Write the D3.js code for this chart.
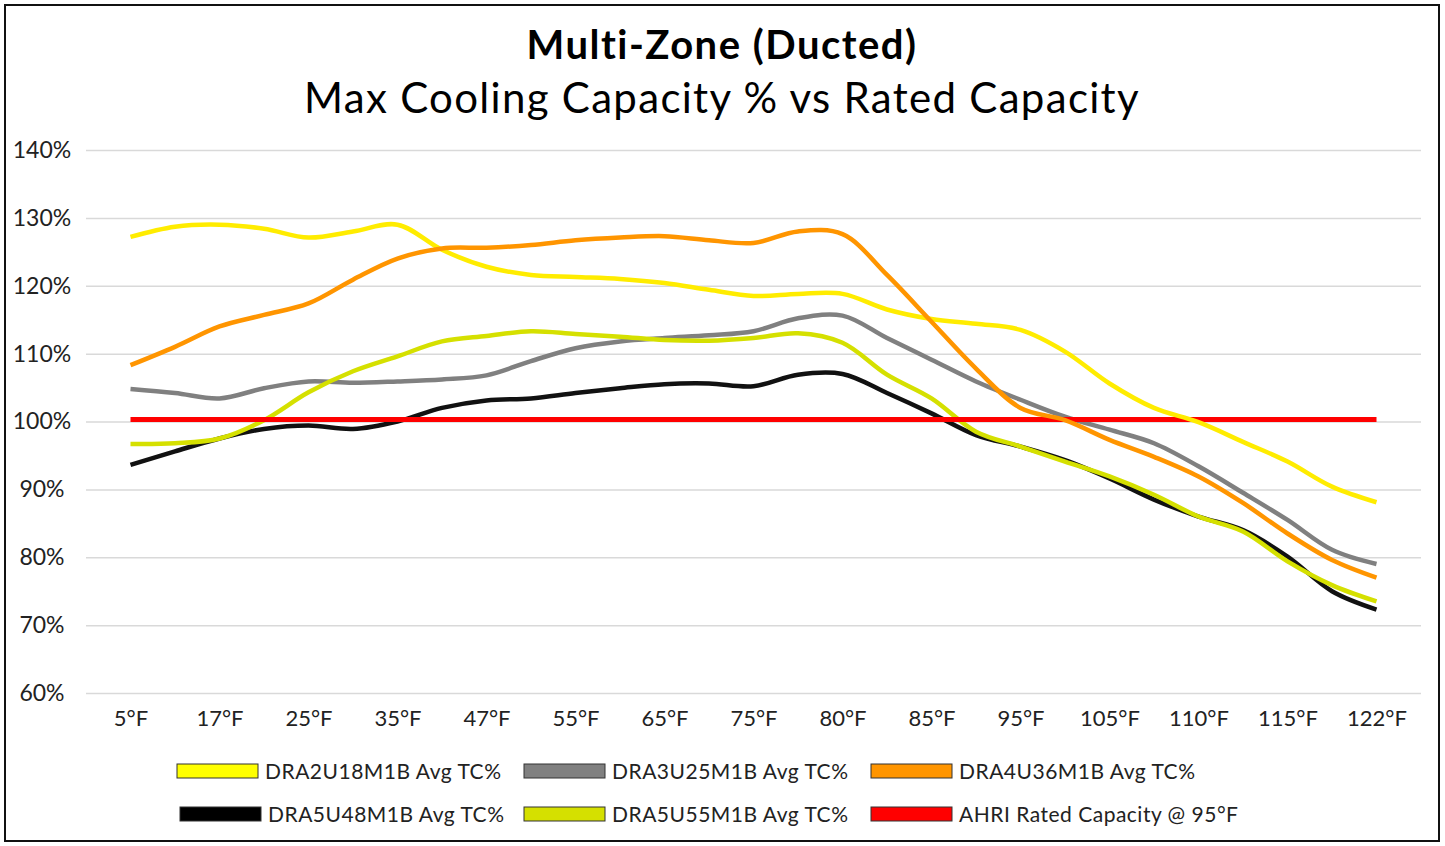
<!DOCTYPE html>
<html>
<head>
<meta charset="utf-8">
<script src="https://cdn.jsdelivr.net/npm/d3@7"></script>
<style>
  body { margin: 0; background: #fff; }
  svg { display: block; font-family: Lato, "Open Sans", sans-serif; }
</style>
</head>
<body>
<div id="chart"></div>
<script>
// x slots: every labelled temperature plus one unlabelled step between each pair
var tempLabels = ["5°F","17°F","25°F","35°F","47°F","55°F","65°F","75°F","80°F","85°F","95°F","105°F","110°F","115°F","122°F"];
var yTicks = [60, 70, 80, 90, 100, 110, 120, 130, 140];

var dra2u18 = [127.2,128.7,129.0,128.4,127.1,128.0,129.0,125.3,122.8,121.6,121.3,121.0,120.4,119.4,118.5,118.8,118.8,116.5,115.1,114.4,113.5,110.3,105.6,102.0,99.9,97.0,94.1,90.4,88.1];
var dra3u25 = [104.8,104.2,103.4,104.9,105.9,105.7,105.9,106.2,106.8,108.9,110.8,111.8,112.3,112.7,113.3,115.2,115.6,112.3,109.1,105.9,103.2,100.7,98.8,96.8,93.4,89.5,85.5,81.1,79.0];
var dra4u36 = [108.3,111.0,114.0,115.7,117.4,120.9,124.0,125.5,125.6,126.0,126.7,127.1,127.3,126.7,126.3,128.0,127.6,121.6,114.7,107.8,102.0,100.2,97.3,94.8,91.9,88.0,83.5,79.6,77.0];
var dra5u48 = [93.6,95.6,97.5,98.9,99.4,98.9,100.0,102.0,103.1,103.4,104.2,104.9,105.5,105.6,105.2,106.9,107.0,104.2,101.2,98.0,96.3,94.3,91.6,88.5,86.0,84.0,80.1,75.0,72.3];
var dra5u55 = [96.7,96.8,97.5,100.2,104.3,107.4,109.6,111.8,112.6,113.3,112.9,112.5,112.0,111.9,112.3,113.0,111.6,106.9,103.4,98.5,96.3,94.1,91.9,89.2,86.0,83.8,79.4,75.9,73.5];
var ahriRated = [100.3,100.3,100.3,100.3,100.3,100.3,100.3,100.3,100.3,100.3,100.3,100.3,100.3,100.3,100.3,100.3,100.3,100.3,100.3,100.3,100.3,100.3,100.3,100.3,100.3,100.3,100.3,100.3,100.3];

var seriesNames = ["DRA2U18M1B Avg TC%","DRA3U25M1B Avg TC%","DRA4U36M1B Avg TC%","DRA5U48M1B Avg TC%","DRA5U55M1B Avg TC%","AHRI Rated Capacity @ 95°F"];
var seriesColors = ["#ffec00","#808080","#ff9500","#111111","#d5e000","#ff0000"];
var legendSwatch = ["#ffff00","#808080","#ff9500","#000000","#d5e000","#ff0000"];

var series = [
  {name: seriesNames[3], values: dra5u48, color: seriesColors[3]},
  {name: seriesNames[1], values: dra3u25, color: seriesColors[1]},
  {name: seriesNames[4], values: dra5u55, color: seriesColors[4]},
  {name: seriesNames[5], values: ahriRated, color: seriesColors[5], w: 5},
  {name: seriesNames[0], values: dra2u18, color: seriesColors[0]},
  {name: seriesNames[2], values: dra4u36, color: seriesColors[2]}
];

var width = 1445, height = 846;
var svg = d3.select('#chart').append('svg')
  .attr('width', width)
  .attr('height', height);

svg.append('rect')
  .attr('x', 5).attr('y', 5)
  .attr('width', 1434).attr('height', 836)
  .attr('fill', '#fff')
  .attr('stroke', '#111')
  .attr('stroke-width', 2);

svg.append('text')
  .attr('x', 722).attr('y', 59)
  .attr('text-anchor', 'middle')
  .attr('font-size', 40).attr('font-weight', 'bold')
  .attr('letter-spacing', 1.5)
  .attr('fill', '#000')
  .text('Multi-Zone (Ducted)');

svg.append('text')
  .attr('x', 722).attr('y', 113)
  .attr('text-anchor', 'middle')
  .attr('font-size', 42)
  .attr('letter-spacing', 1.3)
  .attr('fill', '#000')
  .text('Max Cooling Capacity % vs Rated Capacity');

var left = 86, right = 1421;
var nSlots = dra2u18.length;
var x = d3.scaleLinear().domain([-1, nSlots]).range([left, right]);
var y = d3.scaleLinear().domain([60, 140]).range([693, 150]);

// grid + y labels
var yAxis = svg.append('g')
  .attr('transform', 'translate(' + left + ',0)')
  .call(d3.axisLeft(y).tickValues(yTicks).tickSize(-(right - left)).tickFormat(function(d){ return d + '%'; }));
yAxis.select('.domain').remove();
yAxis.selectAll('.tick line').attr('stroke', '#d9d9d9').attr('stroke-width', 1.5);
yAxis.selectAll('.tick text')
  .attr('x', -44).attr('text-anchor', 'middle')
  .attr('font-size', 23).attr('fill', '#222')
  .style('font-family', 'Lato, sans-serif');

// x labels
var xAxis = svg.append('g')
  .attr('transform', 'translate(0,693)')
  .call(d3.axisBottom(x)
    .tickValues(d3.range(0, nSlots, 2))
    .tickSize(0)
    .tickPadding(17)
    .tickFormat(function(d){ return tempLabels[d / 2]; }));
xAxis.select('.domain').remove();
xAxis.selectAll('.tick text')
  .attr('font-size', 22).attr('fill', '#222')
  .style('font-family', 'Lato, sans-serif');

var line = d3.line()
  .x(function(d, i){ return x(i); })
  .y(function(d){ return y(d); })
  .curve(d3.curveCatmullRom.alpha(0.5));

svg.selectAll('.serie')
  .data(series)
  .enter().append('path')
  .attr('class', 'serie')
  .attr('d', function(d){ return line(d.values); })
  .attr('fill', 'none')
  .attr('stroke', function(d){ return d.color; })
  .attr('stroke-width', function(d){ return d.w || 4.5; })
  .attr('stroke-linecap', 'butt');

// legend
var legendPos = [[177, 771], [524, 771], [871, 771], [180, 814], [524, 814], [871, 814]];
var legend = svg.selectAll('.legend')
  .data(seriesNames)
  .enter().append('g')
  .attr('class', 'legend')
  .attr('transform', function(d, i){ return 'translate(' + legendPos[i][0] + ',' + legendPos[i][1] + ')'; });

legend.append('rect')
  .attr('x', 0).attr('y', -7)
  .attr('width', 81).attr('height', 14)
  .attr('fill', function(d, i){ return legendSwatch[i]; })
  .attr('stroke', '#333').attr('stroke-width', 1);

legend.append('text')
  .attr('x', 88).attr('y', 8)
  .attr('font-size', 21).attr('letter-spacing', 0.5).attr('fill', '#222')
  .text(function(d){ return d; });
</script>
</body>
</html>
